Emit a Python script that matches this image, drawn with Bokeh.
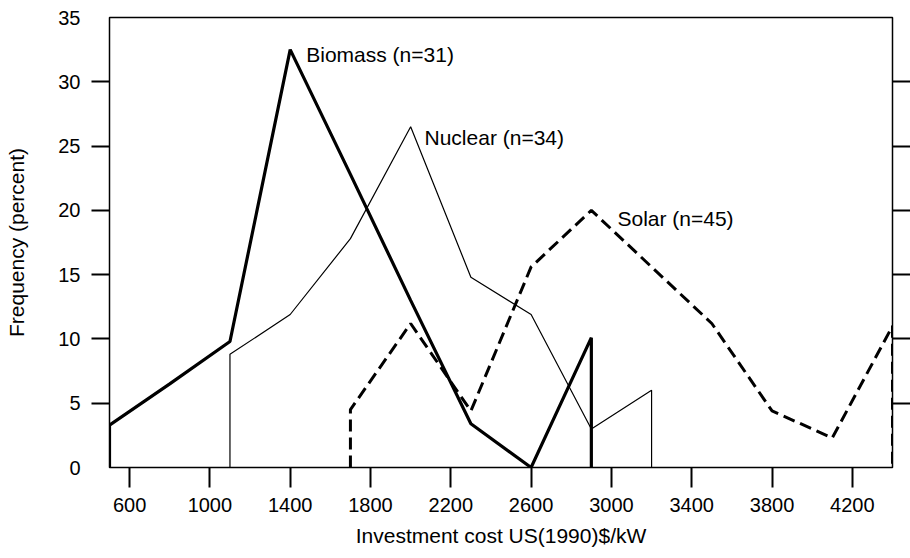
from bokeh.plotting import figure
from bokeh.models import Range1d, LinearAxis, FixedTicker, Title
from bokeh.core.properties import value
from bokeh.embed import file_html
from bokeh.resources import INLINE

# ---- data ----
biomass_cost = [500, 800, 1100, 1400, 1700, 2000, 2300, 2600, 2900]
biomass_pct = [3.3, 6.5, 9.8, 32.5, 22.8, 13.0, 3.4, 0.0, 10.1]

nuclear_cost = [1100, 1400, 1700, 2000, 2300, 2600, 2900, 3200]
nuclear_pct = [8.8, 11.9, 17.8, 26.5, 14.8, 11.9, 3.0, 6.0]

solar_cost = [1700, 2000, 2300, 2600, 2900, 3200, 3500, 3800, 4100, 4400]
solar_pct = [4.5, 11.2, 4.4, 15.6, 20.0, 15.6, 11.2, 4.4, 2.3, 11.0]

x_ticks = [600, 1000, 1400, 1800, 2200, 2600, 3000, 3400, 3800, 4200]
y_label_ticks = [0, 5, 10, 15, 20, 25, 30, 35]
y_mark_ticks = [5, 10, 15, 20, 25, 30]

series_labels = ["Biomass (n=31)", "Nuclear (n=34)", "Solar (n=45)"]
x_title = "Investment cost US(1990)$/kW"
y_title = "Frequency (percent)"

FONT = "Liberation Sans"

p = figure(width=910, height=558, output_backend="svg", toolbar_location=None,
           x_range=Range1d(500, 4400), y_range=Range1d(0, 35),
           x_axis_location=None, y_axis_location=None,
           min_border_left=109, min_border_right=18, min_border_top=17, min_border_bottom=91)
p.grid.visible = False
p.outline_line_color = "black"
p.outline_line_width = 1.5
p.background_fill_color = "white"
p.border_fill_color = "white"


def closed(xs, ys):
    return [xs[0]] + list(xs) + [xs[-1]], [0] + list(ys) + [0]


bx, by = closed(biomass_cost, biomass_pct)
nx, ny = closed(nuclear_cost, nuclear_pct)
sx, sy = closed(solar_cost, solar_pct)

p.line(nx, ny, line_color="black", line_width=1.2)
p.line(sx, sy, line_color="black", line_width=3, line_dash="12 6")
p.line(bx, by, line_color="black", line_width=3.2)

# series labels
for lx, ly, txt in [(1480, 32.1, series_labels[0]),
                    (2069, 25.7, series_labels[1]),
                    (3030, 19.4, series_labels[2])]:
    p.text(x=[lx], y=[ly], text=[txt], text_font=value(FONT),
           text_font_size="21px", text_baseline="middle", text_align="left",
           text_color="black")

# bottom axis
xa = LinearAxis(ticker=FixedTicker(ticks=x_ticks))
xa.axis_line_color = None
xa.major_tick_out = 20
xa.major_tick_in = 0
xa.major_tick_line_width = 2
xa.minor_tick_line_color = None
xa.major_label_standoff = 10
xa.major_label_text_font = FONT
xa.major_label_text_font_size = "20px"
xa.major_label_text_color = "black"
p.add_layout(xa, "below")

# x-axis title
xt = Title(text=x_title, align="center", offset=10, standoff=14,
           text_font=FONT, text_font_size="21px", text_font_style="normal",
           text_color="black")
p.add_layout(xt, "below")

# left tick marks (no labels)
yt = LinearAxis(ticker=FixedTicker(ticks=y_mark_ticks))
yt.axis_line_color = None
yt.major_tick_out = 18
yt.major_tick_in = 0
yt.major_tick_line_width = 2
yt.minor_tick_line_color = None
yt.major_label_standoff = 0
yt.major_label_overrides = {t: "" for t in y_mark_ticks}
p.add_layout(yt, "left")

# left labels
yl = LinearAxis(ticker=FixedTicker(ticks=y_label_ticks), axis_label=y_title)
yl.axis_line_color = None
yl.major_tick_out = 0
yl.major_tick_in = 0
yl.major_tick_line_color = None
yl.minor_tick_line_color = None
yl.major_label_standoff = 11
yl.major_label_text_font = FONT
yl.major_label_text_font_size = "20px"
yl.major_label_text_color = "black"
yl.axis_label_text_font = FONT
yl.axis_label_text_font_size = "21px"
yl.axis_label_text_font_style = "normal"
yl.axis_label_text_color = "black"
yl.axis_label_standoff = 27
p.add_layout(yl, "left")

# right tick marks
yr = LinearAxis(ticker=FixedTicker(ticks=y_mark_ticks))
yr.axis_line_color = None
yr.major_tick_out = 18
yr.major_tick_in = 0
yr.major_tick_line_width = 2
yr.minor_tick_line_color = None
yr.major_label_standoff = 0
yr.major_label_overrides = {t: "" for t in y_mark_ticks}
p.add_layout(yr, "right")

open("out.html", "w").write(file_html(p, INLINE))
